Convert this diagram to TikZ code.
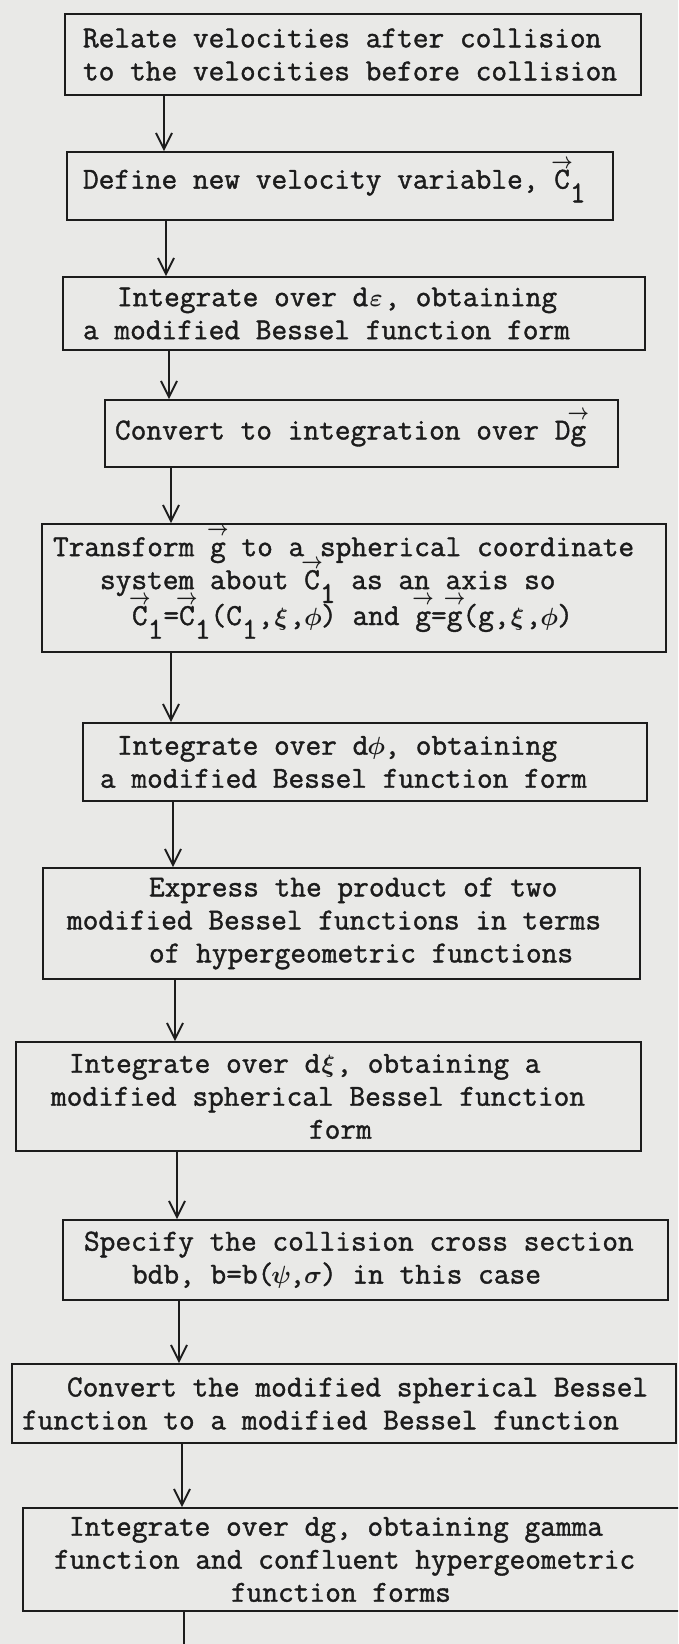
\documentclass[tikz,border=0pt]{standalone}
\usepackage{fontspec}
\newfontfamily\tw[FakeBold=1.3]{Latin Modern Mono}
\usetikzlibrary{arrows.meta}
\definecolor{paper}{RGB}{233,233,231}
\definecolor{ink}{RGB}{28,28,28}
\newlength\chw \setlength\chw{16pt}
\newcommand\ind[1]{\hspace*{#1pt}}
\newcommand\mc[1]{\makebox[\chw]{$\boldsymbol{#1}$}}
\newcommand\vv[1]{\leavevmode\hbox{\ooalign{#1\cr\hidewidth\raisebox{0.66em}{\scalebox{0.75}[0.9]{$\boldsymbol{\rightarrow}$}}\hidewidth\cr}}}
\newcommand\sub[1]{\raisebox{-0.45em}{#1}}
\usepackage{amsmath}
\tikzset{
  stepbox/.style={draw=ink, line width=1.9pt, rectangle, inner sep=0pt, text=ink,
    font=\fontsize{30.5pt}{33pt}\selectfont\tw},
  flow/.style={draw=ink, line width=1.9pt, -{Straight Barb[length=16pt,width=16pt,line width=1.9pt]}},
  plain/.style={draw=ink, line width=1.9pt}
}
\begin{document}
\begin{tikzpicture}[x=1pt,y=-1pt]
\fill[paper] (0,0) rectangle (678,1644);
\useasboundingbox (0,0) rectangle (678,1644);
\clip (0,0) rectangle (678,1644);

\node[stepbox, minimum width=576pt, minimum height=81pt] (b1) at (353,54.5)
 {\parbox{576pt}{\ind{18}Relate velocities after collision\\\ind{18}to the velocities before collision}};
\node[stepbox, minimum width=546pt, minimum height=68pt] (b2) at (340,186)
 {\parbox{546pt}{\ind{16}Define new velocity variable, \vv{C}\sub{1}}};
\node[stepbox, minimum width=582pt, minimum height=73pt] (b3) at (354,313.5)
 {\parbox{582pt}{\ind{54}Integrate over d\mc{\varepsilon}, obtaining\\\ind{20}a modified Bessel function form}};
\node[stepbox, minimum width=513pt, minimum height=67pt] (b4) at (361.5,433.5)
 {\parbox{513pt}{\ind{10}Convert to integration over D\vv{g}}};
\node[stepbox, minimum width=624pt, minimum height=128pt] (b5) at (354,588)
 {\parbox{624pt}{\ind{11}Transform \vv{g} to a spherical coordinate\\\ind{58}system about \vv{C}\sub{1} as an axis so\\\ind{90}\vv{C}\sub{1}=\vv{C}\sub{1}(C\sub{1},\mc{\xi},\mc{\phi}) and \vv{g}=\vv{g}(g,\mc{\xi},\mc{\phi})}};
\node[stepbox, minimum width=564pt, minimum height=78pt] (b6) at (365,762)
 {\parbox{564pt}{\ind{34}Integrate over d\mc{\phi}, obtaining\\\ind{17}a modified Bessel function form}};
\node[stepbox, minimum width=597pt, minimum height=111pt] (b7) at (341.5,923.5)
 {\parbox{597pt}{\ind{106}Express the product of two\\\ind{24}modified Bessel functions in terms\\\ind{106}of hypergeometric functions}};
\node[stepbox, minimum width=625pt, minimum height=109pt] (b8) at (328.5,1096.5)
 {\parbox{625pt}{\ind{53}Integrate over d\mc{\xi}, obtaining a\\\ind{35}modified spherical Bessel function\\\ind{293}form}};
\node[stepbox, minimum width=605pt, minimum height=80pt] (b9) at (365.5,1260)
 {\parbox{605pt}{\ind{21}Specify the collision cross section\\\ind{69}bdb, b=b(\mc{\psi},\mc{\sigma}) in this case}};
\node[stepbox, minimum width=664pt, minimum height=79pt] (b10) at (344,1403.5)
 {\parbox{664pt}{\ind{55}Convert the modified spherical Bessel\\\ind{10}function to a modified Bessel function}};
\node[stepbox, minimum width=677pt, minimum height=103pt] (b11) at (361.5,1559.5)
 {\parbox{677pt}{\ind{46}Integrate over dg, obtaining gamma\\\ind{31}function and confluent hypergeometric\\\ind{208}function forms}};

\coordinate (x1) at (164,0);
\coordinate (x2) at (166,0);
\coordinate (x3) at (169,0);
\coordinate (x4) at (171,0);
\coordinate (x5) at (171,0);
\coordinate (x6) at (173,0);
\coordinate (x7) at (175,0);
\coordinate (x8) at (177,0);
\coordinate (x9) at (179,0);
\coordinate (x10) at (182,0);
\coordinate (xend) at (184,1644);

\draw[flow] (b1.south -| x1) -- (b2.north -| x1);
\draw[flow] (b2.south -| x2) -- (b3.north -| x2);
\draw[flow] (b3.south -| x3) -- (b4.north -| x3);
\draw[flow] (b4.south -| x4) -- (b5.north -| x4);
\draw[flow] (b5.south -| x5) -- (b6.north -| x5);
\draw[flow] (b6.south -| x6) -- (b7.north -| x6);
\draw[flow] (b7.south -| x7) -- (b8.north -| x7);
\draw[flow] (b8.south -| x8) -- (b9.north -| x8);
\draw[flow] (b9.south -| x9) -- (b10.north -| x9);
\draw[flow] (b10.south -| x10) -- (b11.north -| x10);
\draw[plain] (b11.south -| xend) -- (xend);
\end{tikzpicture}
\end{document}
